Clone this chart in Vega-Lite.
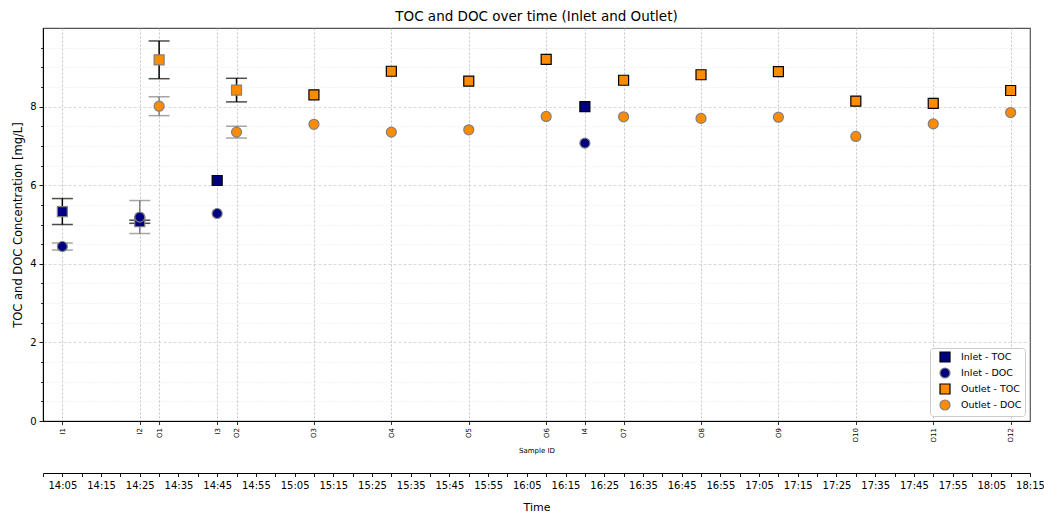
{
  "$schema": "https://vega.github.io/schema/vega-lite/v6.json",
  "width": 987,
  "height": 393,
  "autosize": {"type": "none"},
  "padding": {"left": 43, "top": 28, "right": 14, "bottom": 92},
  "background": "white",
  "title": {
    "text": "TOC and DOC over time (Inlet and Outlet)",
    "fontSize": 13.5,
    "fontWeight": "normal",
    "font": "DejaVu Sans",
    "color": "#000000",
    "offset": 5
  },
  "config": {
    "font": "DejaVu Sans",
    "view": {"stroke": "#555555", "strokeWidth": 1.2},
    "axis": {
      "labelColor": "#000000",
      "titleColor": "#000000",
      "domainColor": "#000000",
      "tickColor": "#000000",
      "labelFont": "DejaVu Sans",
      "titleFont": "DejaVu Sans",
      "titleFontWeight": "normal",
      "labelFlush": false,
      "labelOverlap": false
    },
    "legend": {
      "orient": "bottom-right",
      "offset": 5,
      "padding": 3,
      "symbolOffset": 6,
      "strokeColor": "#cccccc",
      "fillColor": "rgba(255,255,255,0.85)",
      "cornerRadius": 3,
      "labelFont": "DejaVu Sans",
      "labelFontSize": 9.5,
      "labelColor": "#000000",
      "symbolSize": 100,
      "symbolStrokeWidth": 1.2,
      "rowPadding": 0,
      "labelOffset": 10
    }
  },
  "data": {
    "values": [
      {"id": "I1", "time": "2024-05-01T14:05:00", "series": "Inlet - TOC", "param": "TOC", "value": 5.33, "lo": 5.0, "hi": 5.66},
      {"id": "I2", "time": "2024-05-01T14:25:00", "series": "Inlet - TOC", "param": "TOC", "value": 5.07, "lo": 5.03, "hi": 5.11},
      {"id": "I3", "time": "2024-05-01T14:45:00", "series": "Inlet - TOC", "param": "TOC", "value": 6.12},
      {"id": "I4", "time": "2024-05-01T16:20:00", "series": "Inlet - TOC", "param": "TOC", "value": 8.0},
      {"id": "I1", "time": "2024-05-01T14:05:00", "series": "Inlet - DOC", "param": "DOC", "value": 4.44, "lo": 4.35, "hi": 4.53},
      {"id": "I2", "time": "2024-05-01T14:25:00", "series": "Inlet - DOC", "param": "DOC", "value": 5.19, "lo": 4.77, "hi": 5.61},
      {"id": "I3", "time": "2024-05-01T14:45:00", "series": "Inlet - DOC", "param": "DOC", "value": 5.28},
      {"id": "I4", "time": "2024-05-01T16:20:00", "series": "Inlet - DOC", "param": "DOC", "value": 7.07},
      {"id": "O1", "time": "2024-05-01T14:30:00", "series": "Outlet - TOC", "param": "TOC", "value": 9.19, "lo": 8.71, "hi": 9.67},
      {"id": "O2", "time": "2024-05-01T14:50:00", "series": "Outlet - TOC", "param": "TOC", "value": 8.42, "lo": 8.12, "hi": 8.72},
      {"id": "O3", "time": "2024-05-01T15:10:00", "series": "Outlet - TOC", "param": "TOC", "value": 8.3},
      {"id": "O4", "time": "2024-05-01T15:30:00", "series": "Outlet - TOC", "param": "TOC", "value": 8.9},
      {"id": "O5", "time": "2024-05-01T15:50:00", "series": "Outlet - TOC", "param": "TOC", "value": 8.65},
      {"id": "O6", "time": "2024-05-01T16:10:00", "series": "Outlet - TOC", "param": "TOC", "value": 9.2},
      {"id": "O7", "time": "2024-05-01T16:30:00", "series": "Outlet - TOC", "param": "TOC", "value": 8.67},
      {"id": "O8", "time": "2024-05-01T16:50:00", "series": "Outlet - TOC", "param": "TOC", "value": 8.81},
      {"id": "O9", "time": "2024-05-01T17:10:00", "series": "Outlet - TOC", "param": "TOC", "value": 8.89},
      {"id": "O10", "time": "2024-05-01T17:30:00", "series": "Outlet - TOC", "param": "TOC", "value": 8.14},
      {"id": "O11", "time": "2024-05-01T17:50:00", "series": "Outlet - TOC", "param": "TOC", "value": 8.08},
      {"id": "O12", "time": "2024-05-01T18:10:00", "series": "Outlet - TOC", "param": "TOC", "value": 8.41},
      {"id": "O1", "time": "2024-05-01T14:30:00", "series": "Outlet - DOC", "param": "DOC", "value": 8.01, "lo": 7.77, "hi": 8.25},
      {"id": "O2", "time": "2024-05-01T14:50:00", "series": "Outlet - DOC", "param": "DOC", "value": 7.35, "lo": 7.2, "hi": 7.5},
      {"id": "O3", "time": "2024-05-01T15:10:00", "series": "Outlet - DOC", "param": "DOC", "value": 7.55},
      {"id": "O4", "time": "2024-05-01T15:30:00", "series": "Outlet - DOC", "param": "DOC", "value": 7.35},
      {"id": "O5", "time": "2024-05-01T15:50:00", "series": "Outlet - DOC", "param": "DOC", "value": 7.41},
      {"id": "O6", "time": "2024-05-01T16:10:00", "series": "Outlet - DOC", "param": "DOC", "value": 7.75},
      {"id": "O7", "time": "2024-05-01T16:30:00", "series": "Outlet - DOC", "param": "DOC", "value": 7.74},
      {"id": "O8", "time": "2024-05-01T16:50:00", "series": "Outlet - DOC", "param": "DOC", "value": 7.7},
      {"id": "O9", "time": "2024-05-01T17:10:00", "series": "Outlet - DOC", "param": "DOC", "value": 7.73},
      {"id": "O10", "time": "2024-05-01T17:30:00", "series": "Outlet - DOC", "param": "DOC", "value": 7.24},
      {"id": "O11", "time": "2024-05-01T17:50:00", "series": "Outlet - DOC", "param": "DOC", "value": 7.56},
      {"id": "O12", "time": "2024-05-01T18:10:00", "series": "Outlet - DOC", "param": "DOC", "value": 7.85}
    ]
  },
  "resolve": {"axis": {"x": "independent", "y": "independent"}},
  "layer": [
    {
      "transform": [{"filter": "isValid(datum.lo)"}],
      "mark": {"type": "rule", "strokeWidth": 1.5},
      "encoding": {
        "x": {
          "field": "time",
          "type": "temporal",
          "scale": {"domain": [
            {"year": 2024, "month": 5, "date": 1, "hours": 14, "minutes": 0},
            {"year": 2024, "month": 5, "date": 1, "hours": 18, "minutes": 15}
          ]},
          "axis": {
            "orient": "bottom",
            "offset": 52,
            "title": "Time",
            "titleFontSize": 11,
            "titlePadding": 11,
            "labelFontSize": 10,
            "labelPadding": 4,
            "grid": false,
            "tickCount": 51,
            "labelExpr": "minutes(datum.value) % 10 == 5 ? timeFormat(datum.value, '%H:%M') : ''",
            "tickSize": 3.5,
            "tickWidth": 0.9
          }
        },
        "y": {
          "field": "lo",
          "type": "quantitative",
          "scale": {"domain": [0, 10], "nice": false},
          "axis": {
            "orient": "left",
            "title": null,
            "labels": false,
            "domain": false,
            "values": [0.5, 1, 1.5, 2.5, 3, 3.5, 4.5, 5, 5.5, 6.5, 7, 7.5, 8.5, 9, 9.5],
            "tickSize": 2.5,
            "tickWidth": 0.8,
            "grid": true,
            "gridColor": "#e2e2e2",
            "gridDash": [1, 2],
            "gridWidth": 0.8
          }
        },
        "y2": {"field": "hi"},
        "color": {
          "field": "param",
          "type": "nominal",
          "scale": {"domain": ["TOC", "DOC"], "range": ["#000000", "#808080"]},
          "legend": null
        }
      }
    },
    {
      "transform": [{"filter": "isValid(datum.lo)"}],
      "mark": {"type": "tick", "orient": "horizontal", "size": 21, "thickness": 1.5},
      "encoding": {
        "x": {"field": "time", "type": "temporal", "axis": null},
        "y": {"field": "lo", "type": "quantitative", "axis": null},
        "color": {"field": "param", "type": "nominal", "legend": null}
      }
    },
    {
      "transform": [{"filter": "isValid(datum.hi)"}],
      "mark": {"type": "tick", "orient": "horizontal", "size": 21, "thickness": 1.5},
      "encoding": {
        "x": {"field": "time", "type": "temporal", "axis": null},
        "y": {"field": "hi", "type": "quantitative", "axis": null},
        "color": {"field": "param", "type": "nominal", "legend": null}
      }
    },
    {
      "mark": {"type": "point", "filled": true, "size": 100, "strokeWidth": 1.2, "opacity": 1},
      "encoding": {
        "x": {
          "field": "time",
          "type": "temporal",
          "axis": {
            "orient": "bottom",
            "title": "Sample ID",
            "titleFontSize": 7,
            "titlePadding": 5,
            "labelFontSize": 7,
            "labelAngle": 270,
            "labelPadding": 3,
            "tickSize": 3.5,
            "tickWidth": 0.8,
            "values": [
              {"year": 2024, "month": 5, "date": 1, "hours": 14, "minutes": 5},
              {"year": 2024, "month": 5, "date": 1, "hours": 14, "minutes": 25},
              {"year": 2024, "month": 5, "date": 1, "hours": 14, "minutes": 30},
              {"year": 2024, "month": 5, "date": 1, "hours": 14, "minutes": 45},
              {"year": 2024, "month": 5, "date": 1, "hours": 14, "minutes": 50},
              {"year": 2024, "month": 5, "date": 1, "hours": 15, "minutes": 10},
              {"year": 2024, "month": 5, "date": 1, "hours": 15, "minutes": 30},
              {"year": 2024, "month": 5, "date": 1, "hours": 15, "minutes": 50},
              {"year": 2024, "month": 5, "date": 1, "hours": 16, "minutes": 10},
              {"year": 2024, "month": 5, "date": 1, "hours": 16, "minutes": 20},
              {"year": 2024, "month": 5, "date": 1, "hours": 16, "minutes": 30},
              {"year": 2024, "month": 5, "date": 1, "hours": 16, "minutes": 50},
              {"year": 2024, "month": 5, "date": 1, "hours": 17, "minutes": 10},
              {"year": 2024, "month": 5, "date": 1, "hours": 17, "minutes": 30},
              {"year": 2024, "month": 5, "date": 1, "hours": 17, "minutes": 50},
              {"year": 2024, "month": 5, "date": 1, "hours": 18, "minutes": 10}
            ],
            "labelExpr": "timeFormat(datum.value, '%H:%M') == '14:05' ? 'I1' : timeFormat(datum.value, '%H:%M') == '14:25' ? 'I2' : timeFormat(datum.value, '%H:%M') == '14:30' ? 'O1' : timeFormat(datum.value, '%H:%M') == '14:45' ? 'I3' : timeFormat(datum.value, '%H:%M') == '14:50' ? 'O2' : timeFormat(datum.value, '%H:%M') == '15:10' ? 'O3' : timeFormat(datum.value, '%H:%M') == '15:30' ? 'O4' : timeFormat(datum.value, '%H:%M') == '15:50' ? 'O5' : timeFormat(datum.value, '%H:%M') == '16:10' ? 'O6' : timeFormat(datum.value, '%H:%M') == '16:20' ? 'I4' : timeFormat(datum.value, '%H:%M') == '16:30' ? 'O7' : timeFormat(datum.value, '%H:%M') == '16:50' ? 'O8' : timeFormat(datum.value, '%H:%M') == '17:10' ? 'O9' : timeFormat(datum.value, '%H:%M') == '17:30' ? 'O10' : timeFormat(datum.value, '%H:%M') == '17:50' ? 'O11' : 'O12'",
            "grid": true,
            "gridColor": "#b5b5b5",
            "gridDash": [2, 2],
            "gridWidth": 0.8
          }
        },
        "y": {
          "field": "value",
          "type": "quantitative",
          "axis": {
            "orient": "left",
            "title": "TOC and DOC Concentration [mg/L]",
            "titleFontSize": 11.5,
            "titlePadding": 6,
            "labelFontSize": 10,
            "labelPadding": 3,
            "values": [0, 2, 4, 6, 8],
            "tickSize": 4,
            "tickWidth": 0.9,
            "grid": true,
            "gridColor": "#cfcfcf",
            "gridDash": [3, 2],
            "gridWidth": 0.8
          }
        },
        "fill": {
          "field": "series",
          "type": "nominal",
          "scale": {
            "domain": ["Inlet - TOC", "Inlet - DOC", "Outlet - TOC", "Outlet - DOC"],
            "range": ["#000080", "#000080", "#ff8c00", "#ff8c00"]
          },
          "legend": {"title": null}
        },
        "shape": {
          "field": "series",
          "type": "nominal",
          "scale": {
            "domain": ["Inlet - TOC", "Inlet - DOC", "Outlet - TOC", "Outlet - DOC"],
            "range": ["square", "circle", "square", "circle"]
          },
          "legend": {"title": null}
        },
        "stroke": {
          "condition": {"test": "isValid(datum.lo)", "value": "#808080"},
          "field": "series",
          "type": "nominal",
          "scale": {
            "domain": ["Inlet - TOC", "Inlet - DOC", "Outlet - TOC", "Outlet - DOC"],
            "range": ["#000000", "#808080", "#000000", "#808080"]
          },
          "legend": {"title": null}
        }
      }
    }
  ]
}
